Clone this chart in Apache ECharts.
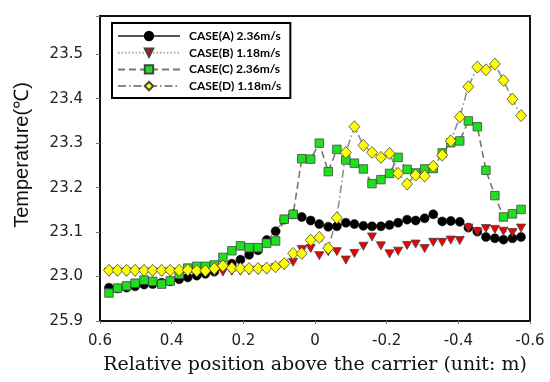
<!DOCTYPE html>
<html>
<head>
<meta charset="utf-8">
<script src="https://cdn.jsdelivr.net/npm/echarts@6/dist/echarts.min.js"></script>
<style>
html,body{margin:0;padding:0;background:#fff;}
#chart{width:550px;height:382px;}
</style>
</head>
<body>
<div id="chart"></div>
<script>
// Relative position above the carrier (m)
const positions = [0.575, 0.551, 0.526, 0.502, 0.477, 0.453, 0.428, 0.404, 0.379, 0.355,
  0.330, 0.306, 0.281, 0.257, 0.232, 0.208, 0.184, 0.159, 0.135, 0.110,
  0.086, 0.061, 0.037, 0.012, -0.012, -0.037, -0.061, -0.086, -0.110, -0.135,
  -0.159, -0.184, -0.208, -0.232, -0.257, -0.281, -0.306, -0.330, -0.355, -0.379,
  -0.404, -0.428, -0.453, -0.477, -0.502, -0.526, -0.551, -0.575];

const caseA = [22.975, 22.973, 22.975, 22.978, 22.982, 22.983, 22.986, 22.989, 22.994, 22.998,
  23.002, 23.006, 23.011, 23.021, 23.029, 23.038, 23.049, 23.059, 23.082, 23.102,
  23.128, 23.140, 23.134, 23.126, 23.118, 23.112, 23.113, 23.121, 23.118, 23.114,
  23.113, 23.113, 23.116, 23.121, 23.128, 23.126, 23.131, 23.140, 23.124, 23.125,
  23.123, 23.110, 23.101, 23.089, 23.086, 23.083, 23.086, 23.089];

const caseB = [23.010, 23.010, 23.010, 23.010, 23.010, 23.010, 23.010, 23.010, 23.010, 23.010,
  23.010, 23.010, 23.011, 23.010, 23.012, 23.012, 23.013, 23.014, 23.015, 23.020,
  23.025, 23.032, 23.061, 23.063, 23.047, 23.056, 23.056, 23.037, 23.052, 23.068,
  23.089, 23.069, 23.051, 23.057, 23.070, 23.073, 23.063, 23.077, 23.077, 23.082,
  23.081, 23.109, 23.101, 23.108, 23.106, 23.102, 23.099, 23.109];

const caseC = [22.963, 22.974, 22.979, 22.985, 22.992, 22.989, 22.983, 22.990, 23.005, 23.019,
  23.023, 23.023, 23.026, 23.043, 23.058, 23.069, 23.065, 23.065, 23.075, 23.080,
  23.129, 23.140, 23.265, 23.264, 23.300, 23.236, 23.286, 23.262, 23.255, 23.242,
  23.209, 23.218, 23.232, 23.268, 23.241, 23.233, 23.242, 23.243, 23.278, 23.301,
  23.305, 23.350, 23.337, 23.239, 23.182, 23.134, 23.141, 23.151];

const caseD = [23.014, 23.014, 23.014, 23.014, 23.014, 23.014, 23.014, 23.014, 23.014, 23.015,
  23.013, 23.013, 23.018, 23.024, 23.019, 23.018, 23.018, 23.018, 23.019, 23.022,
  23.029, 23.052, 23.052, 23.082, 23.088, 23.064, 23.132, 23.279, 23.337, 23.295,
  23.279, 23.268, 23.277, 23.232, 23.208, 23.228, 23.226, 23.248, 23.273, 23.305,
  23.359, 23.427, 23.471, 23.465, 23.478, 23.441, 23.399, 23.362];

const seriesNames = ['CASE(A) 2.36m/s', 'CASE(B) 1.18m/s', 'CASE(C) 2.36m/s', 'CASE(D) 1.18m/s'];
const yTickLabels = ['25.9', '23.0', '23.1', '23.2', '23.3', '23.4', '23.5'];
const xTitle = 'Relative position above the carrier (unit: m)';
const yTitle = 'Temperature(℃)';

const Y_MIN = 22.9, Y_MAX = 23.586, Y_STEP = 0.1;

function pairs(vals) { return positions.map((x, i) => [x, vals[i]]); }

const chart = echarts.init(document.getElementById('chart'), null, {renderer: 'canvas'});

const baseSeries = {
  type: 'line',
  clip: true,
  animation: false,
  emphasis: {disabled: true},
  z: 2
};

chart.setOption({
  animation: false,
  backgroundColor: '#fff',
  grid: {left: 100, right: 20, top: 16, bottom: 61, show: true, borderColor: '#111', borderWidth: 2, backgroundColor: 'transparent'},
  legend: {
    orient: 'vertical', left: 112, top: 23,
    padding: [7, 9, 6, 5],
    itemWidth: 62, itemHeight: 10.5, itemGap: 4.7,
    borderColor: '#000', borderWidth: 2, backgroundColor: '#fff',
    textStyle: {fontFamily: 'Lato', fontWeight: 'bold', fontSize: 12, color: '#000', padding: [0, 0, 0, 4]},
    data: seriesNames
  },
  xAxis: {
    type: 'value', inverse: true, min: -0.6, max: 0.6, interval: 0.2,
    name: xTitle, nameLocation: 'middle', nameGap: 35,
    nameTextStyle: {fontFamily: 'DejaVu Serif', fontSize: 19, color: '#111'},
    axisLine: {show: true, onZero: false, lineStyle: {color: '#111', width: 2}},
    axisTick: {show: true, length: 3, lineStyle: {color: '#777'}},
    axisLabel: {fontFamily: 'DejaVu Sans', fontSize: 15, color: '#222', margin: 13,
      formatter: v => String(Math.round(v * 10) / 10)},
    splitLine: {show: false}
  },
  yAxis: {
    type: 'value', min: Y_MIN, max: Y_MAX, interval: Y_STEP,
    axisLine: {show: true, onZero: false, lineStyle: {color: '#111', width: 2}},
    axisTick: {show: true, length: 4, lineStyle: {color: '#777'}},
    axisLabel: {fontFamily: 'DejaVu Sans', fontSize: 15, color: '#222', margin: 17,
      formatter: function (v) {
        const idx = Math.round((v - Y_MIN) / Y_STEP);
        if (Math.abs(v - (Y_MIN + idx * Y_STEP)) > 1e-6) return '';
        return yTickLabels[idx] || '';
      }},
    splitLine: {show: false}
  },
  graphic: [{
    type: 'text', x: 22, y: 155, rotation: Math.PI / 2,
    style: {text: yTitle, x: 0, y: 0, align: 'center', verticalAlign: 'middle',
      font: '20px "Liberation Sans", Arial, sans-serif', fill: '#111'}
  }],
  series: [
    Object.assign({}, baseSeries, {
      name: seriesNames[0], data: pairs(caseA),
      symbol: 'circle', symbolSize: 9,
      itemStyle: {color: '#000', borderColor: '#000', borderWidth: 0.5},
      lineStyle: {color: '#555', width: 1, type: 'solid'}
    }),
    Object.assign({}, baseSeries, {
      name: seriesNames[1], data: pairs(caseB),
      symbol: 'triangle', symbolRotate: 180, symbolSize: [9, 8],
      itemStyle: {color: '#ee0000', borderColor: '#444', borderWidth: 0.8},
      lineStyle: {color: '#aaa', width: 1, type: [1.5, 2]}
    }),
    Object.assign({}, baseSeries, {
      name: seriesNames[2], data: pairs(caseC),
      symbol: 'rect', symbolSize: 8.5,
      itemStyle: {color: '#1ee01e', borderColor: '#444', borderWidth: 0.8},
      lineStyle: {color: '#777', width: 1.6, type: [7, 4]}
    }),
    Object.assign({}, baseSeries, {
      name: seriesNames[3], data: pairs(caseD),
      symbol: 'diamond', symbolSize: [11, 12],
      itemStyle: {color: '#ffff00', borderColor: '#444', borderWidth: 0.8},
      lineStyle: {color: '#888', width: 1.5, type: [8, 3, 1.5, 3]}
    })
  ]
});
</script>
</body>
</html>
